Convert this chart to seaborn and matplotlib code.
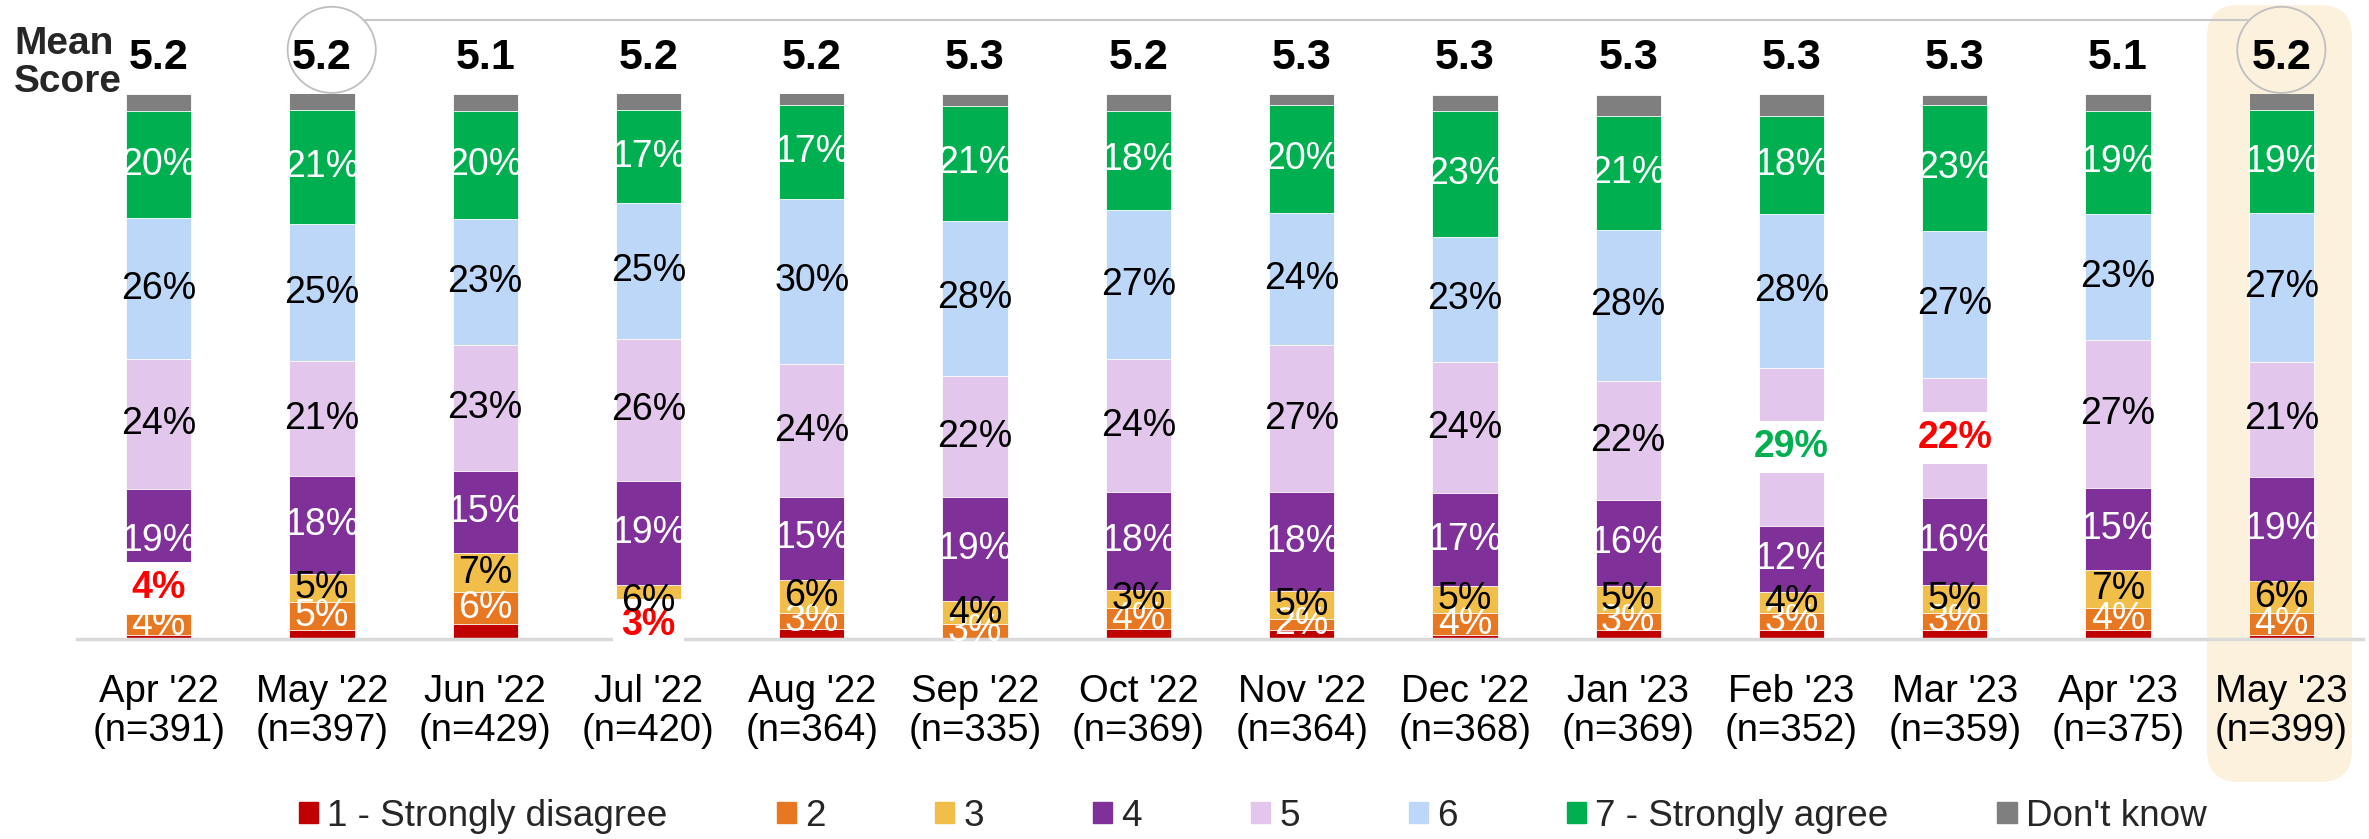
import numpy as np
import pandas as pd
import seaborn as sns
import matplotlib.pyplot as plt
from matplotlib.patches import Patch, Ellipse, FancyBboxPatch, Rectangle
from matplotlib.transforms import IdentityTransform

sns.set_theme(style="white")
plt.rcParams['font.family'] = ['Liberation Sans', 'DejaVu Sans']

months = ["Apr '22", "May '22", "Jun '22", "Jul '22", "Aug '22", "Sep '22", "Oct '22",
          "Nov '22", "Dec '22", "Jan '23", "Feb '23", "Mar '23", "Apr '23", "May '23"]
sample_n = [391, 397, 429, 420, 364, 335, 369, 364, 368, 369, 352, 359, 375, 399]
mean_score = [5.2, 5.2, 5.1, 5.2, 5.2, 5.3, 5.2, 5.3, 5.3, 5.3, 5.3, 5.3, 5.1, 5.2]

# percentages per answer, bottom (1) to top (don't know)
strongly_disagree = [0.7, 1.7, 2.8, 1.0, 1.8, 0.0, 1.8, 1.7, 0.7, 1.7, 1.7, 1.7, 1.7, 0.7]
score_2 = [3.8, 5.1, 5.8, 3.0, 3.0, 2.8, 3.8, 2.0, 4.1, 3.1, 3.1, 3.1, 3.9, 4.1]
score_3 = [4.0, 5.1, 7.2, 6.0, 6.1, 4.1, 3.3, 5.1, 4.9, 4.9, 3.9, 5.1, 7.0, 5.9]
score_4 = [19.0, 18.0, 15.0, 18.9, 15.2, 19.1, 18.1, 18.1, 17.1, 15.8, 12.0, 16.0, 15.1, 19.1]
score_5 = [23.8, 21.1, 23.2, 26.1, 24.3, 22.3, 24.3, 27.1, 24.0, 21.8, 29.1, 22.0, 27.2, 21.1]
score_6 = [25.9, 25.1, 23.0, 25.0, 30.4, 28.4, 27.4, 24.1, 23.0, 27.8, 28.2, 27.0, 23.1, 27.2]
strongly_agree = [19.7, 20.9, 19.9, 17.0, 17.1, 21.1, 18.2, 19.9, 23.0, 20.8, 18.0, 23.0, 18.9, 18.9]
dont_know = [3.1, 3.1, 3.1, 3.1, 2.2, 2.2, 3.1, 2.0, 3.1, 4.0, 4.0, 2.0, 3.1, 3.1]

series_names = ["1 - Strongly disagree", "2", "3", "4", "5", "6", "7 - Strongly agree", "Don't know"]
series = [strongly_disagree, score_2, score_3, score_4, score_5, score_6, strongly_agree, dont_know]
colors = ["#C00000", "#E87722", "#F2BE4A", "#7F3199", "#E2C6EC", "#BDD7F8", "#00B050", "#7F7F7F"]
label_colors = {1: "white", 2: "black", 3: "white", 4: "black", 5: "black", 6: "white"}

# significant changes: (bar, series) -> (colour, nudge)
highlights = {(0, 2): ("#FF0000", 2.8), (3, 1): ("#FF0000", 0.0),
              (10, 4): ("#00B050", 0.0), (11, 4): ("#FF0000", 0.0)}

df = pd.DataFrame({"month": [f"{m}\n(n={n})" for m, n in zip(months, sample_n)]})
values = np.array(series)
tops = np.cumsum(values, axis=0)
for k in range(len(series)):
    df[f"cum{k}"] = tops[k]

W, H = 2369, 839
fig = plt.figure(figsize=(W / 100, H / 100), dpi=100)
ax = fig.add_axes([77 / W, 200 / H, 2286 / W, 545 / H])
ax.set_facecolor("none")

fig.add_artist(FancyBboxPatch((2207, H - 782), 145, 777, boxstyle="round,pad=0,rounding_size=32",
                              transform=IdentityTransform(), fc="#FBF1DC", ec="none", zorder=-1))

# stacked bars: draw cumulative totals from the top down
for k in reversed(range(len(series))):
    sns.barplot(data=df, x="month", y=f"cum{k}", color=colors[k], width=0.4, saturation=1,
                errorbar=None, edgecolor="white", linewidth=0.6, ax=ax)

for i in range(len(months)):
    for k, col in label_colors.items():
        v = values[k, i]
        yc = tops[k, i] - v / 2
        if (i, k) in highlights:
            hc, nudge = highlights[(i, k)]
            ax.add_patch(Rectangle((i - 0.22, yc + nudge - 4.75), 0.44, 9.5, fc="white",
                                   ec="none", zorder=5, clip_on=False))
            ax.text(i, yc + nudge, f"{v:.0f}%", ha="center", va="center", fontsize=27,
                    color=hc, fontweight="bold", zorder=6, clip_on=False)
        else:
            ax.text(i, yc, f"{v:.0f}%", ha="center", va="center", fontsize=27,
                    color=col, zorder=7, clip_on=False)
    ax.text(i, 106.6, f"{mean_score[i]:.1f}", ha="center", va="center", fontsize=31,
            fontweight="bold", color="black", clip_on=False)

fig.text(14 / W, 1 - 63 / H, "Mean\nScore", ha="left", va="center", fontsize=28,
         fontweight="bold", linespacing=1.1)

# circles linking this month with the same month last year
for cx in (1.06, 13.0):
    ax.add_patch(Ellipse((cx, 108.1), 0.54, 15.8, fill=False, ec="#BFBFBF", lw=1.3, clip_on=False))
ax.plot([1.254, 12.806], [113.6, 113.6], color="#C8C8C8", lw=1.5, clip_on=False)

ax.set_ylim(0, 100)
ax.set_xlim(-0.5, 13.5)
ax.set(xlabel="", ylabel="")
ax.set_yticks([])
ax.tick_params(axis="x", length=0, pad=25, labelsize=27.5, labelcolor="black")
for t in ax.get_xticklabels():
    t.set_linespacing(1.1)
sns.despine(ax=ax, left=True)
ax.spines["bottom"].set_color("#D9D9D9")
ax.spines["bottom"].set_linewidth(2.5)

handles = [Patch(color=c) for c in colors]
fig.legend(handles, series_names, loc="center left", bbox_to_anchor=(299 / W, 23 / H), ncol=8,
           frameon=False, fontsize=26.6, handlelength=0.52, handleheight=0.52,
           handletextpad=0.25, columnspacing=2.95, borderpad=0, borderaxespad=0)

fig.savefig("out.png", dpi=100)
